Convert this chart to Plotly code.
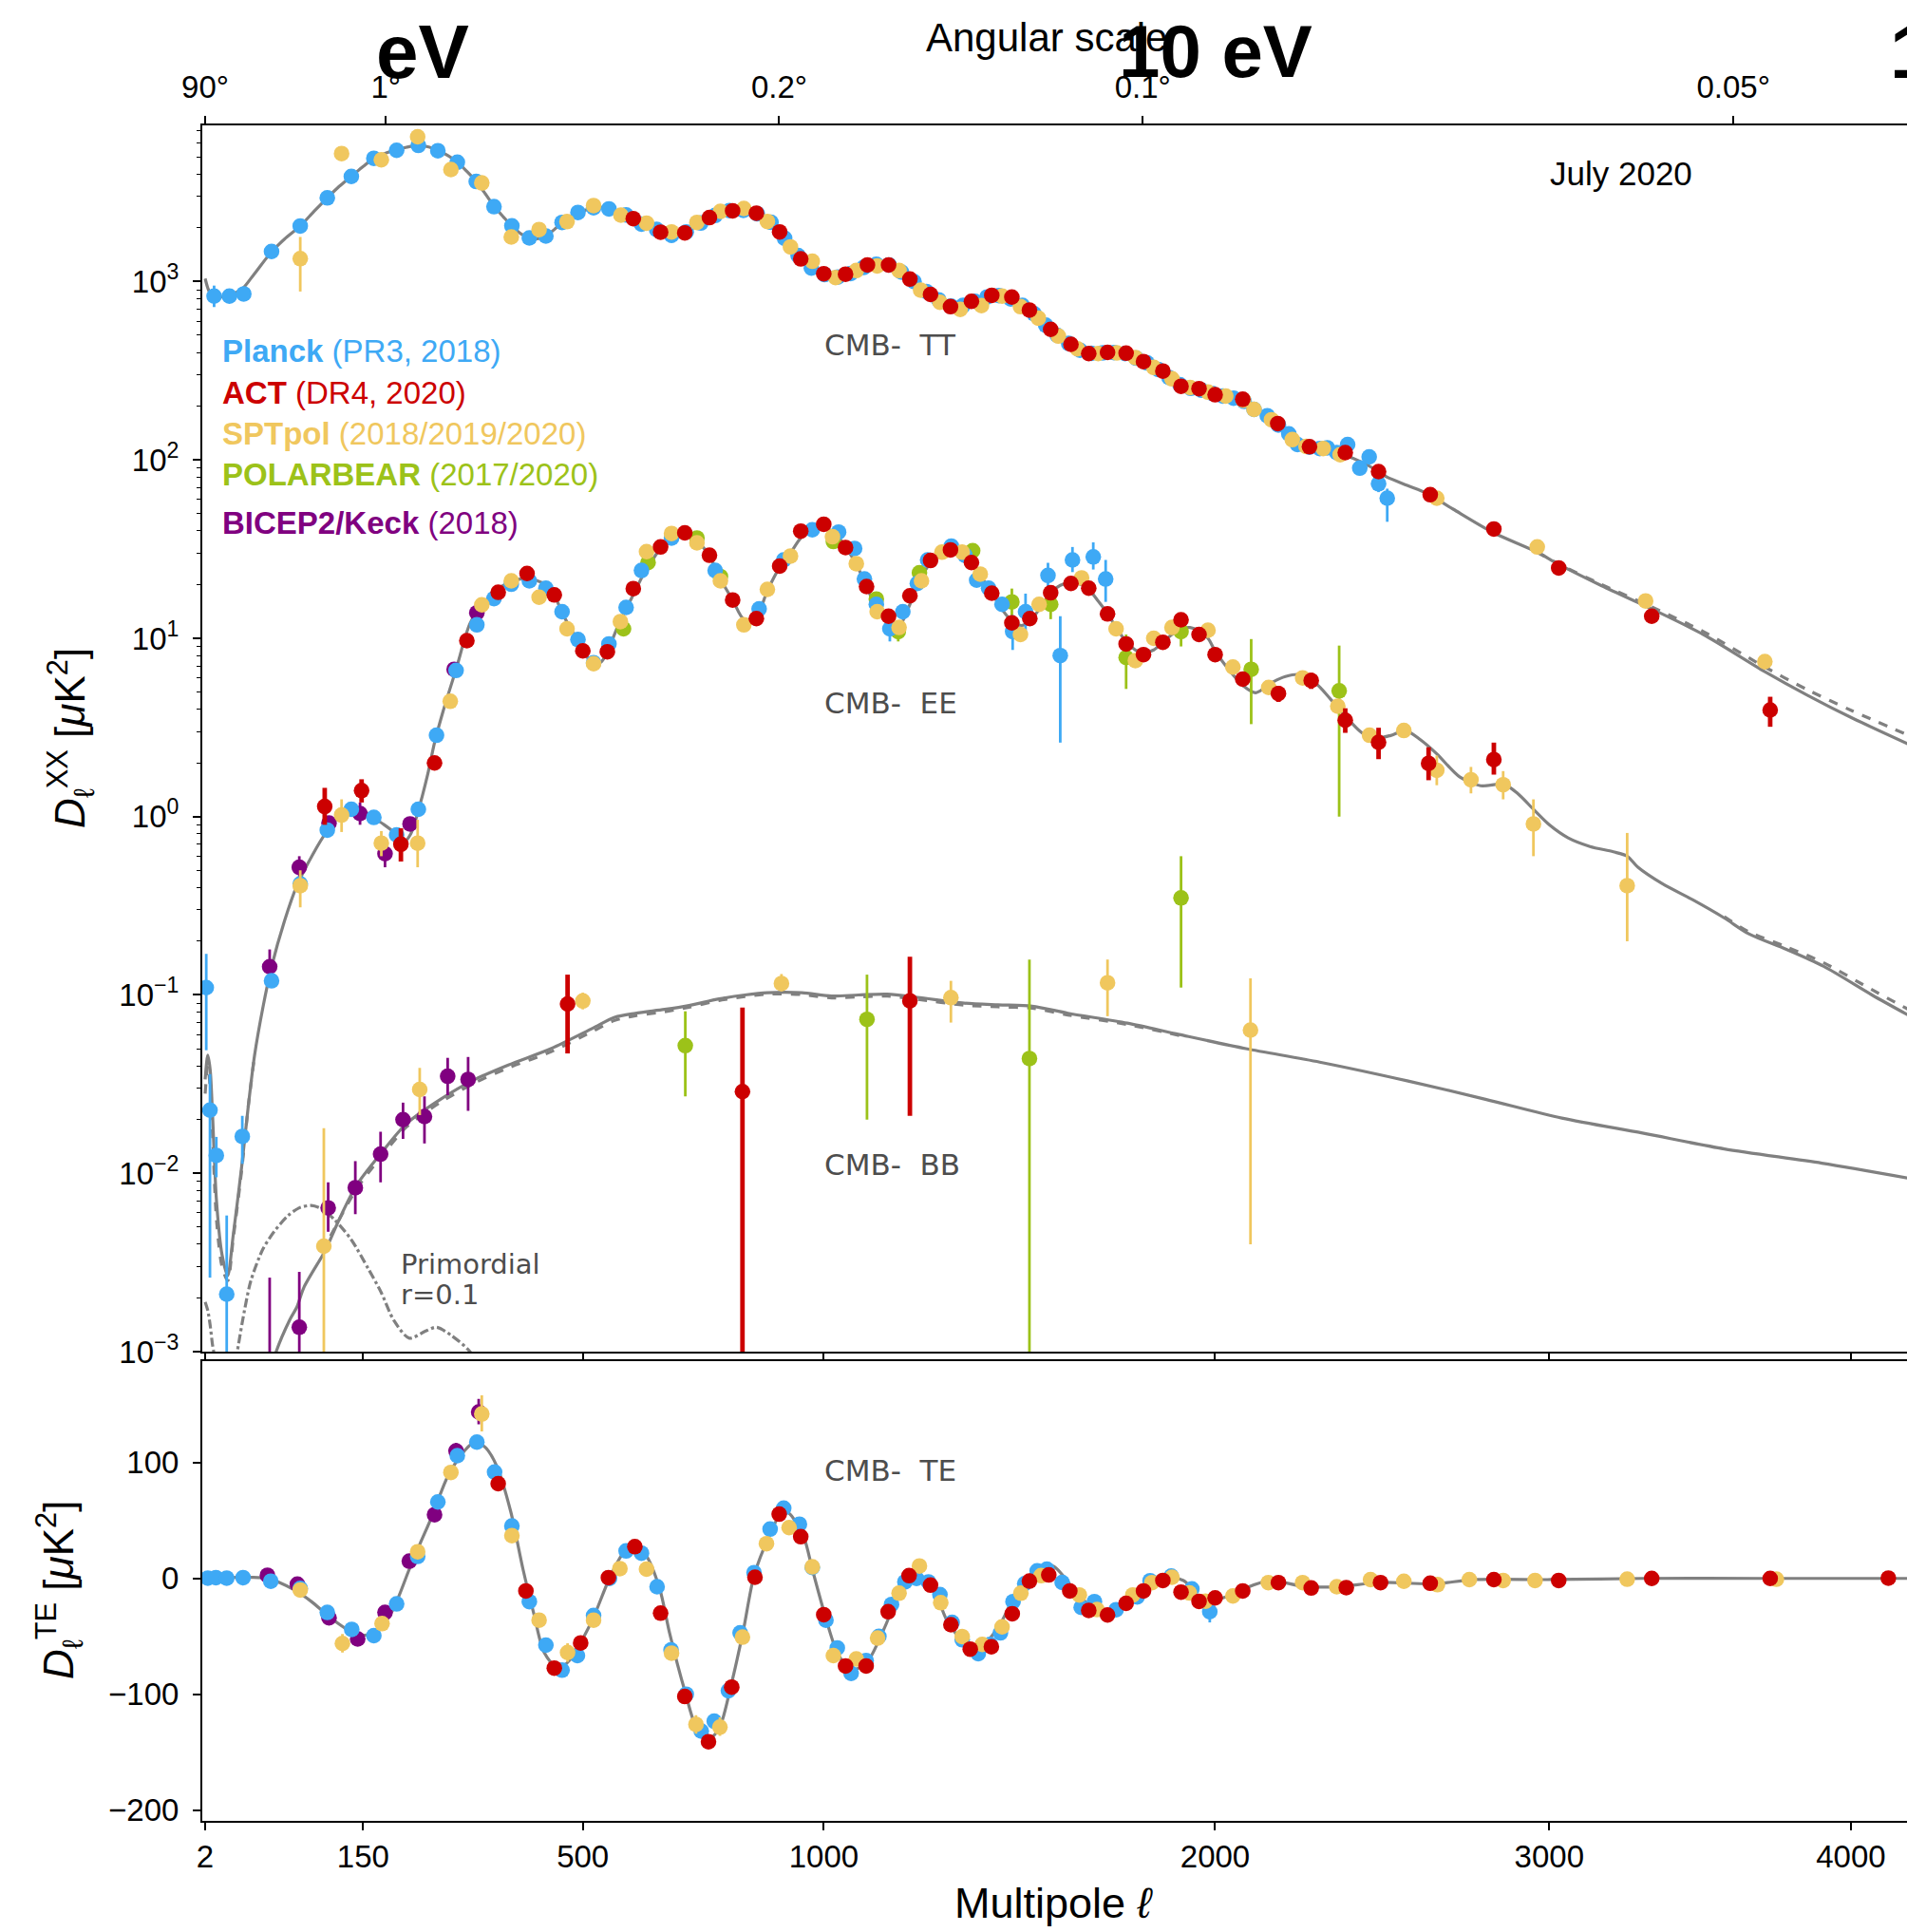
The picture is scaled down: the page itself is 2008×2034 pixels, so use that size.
import plotly.graph_objects as go

# ---------------- data (multipole ell, D_ell in muK^2) ----------------
TT_L = [2,3,4,6,9,13,18,24,33,48,60,76,91,106,120,135,150,164,180,195,210,226,240,255,270,285,300,315,330,344,
        360,374,390,404,418,433,448,462,477,491,505,520,535,549,565,582,597,612,630,650,672,690,710,730,750,773,800,823,850,874,
        900,925,948,974,1000,1027,1050,1075,1101,1125,1151,1175,1202,1228,1252,1277,1301,1327,1353,1378,
        1404,1430,1455,1480,1500,1530,1555,1580,1608,1630,1655,1680,1705,1730,1755,1780,1802,1830,1855,1880,
        1905,1930,1955,1980,2000,2040,2078,2110,2140,2178,2210,2235,2270,2322,2370,2420,2475,2500,2560,2620,
        2700,2826,2960,3030,3160,3330,3500,3706,3850,4000,4200]
TT_D = [1040,920,860,830,820,830,860,920,1110,1475,1730,2050,2480,2950,3420,3890,4420,4910,5250,5480,
        5680,5780,5700,5430,5100,4680,4150,3640,3100,2650,2300,2050,1850,1760,1740,1800,1960,2150,2300,2440,
        2520,2600,2610,2560,2470,2360,2250,2110,1980,1890,1820,1840,1950,2120,2280,2450,2520,2520,2420,2200,
        1920,1580,1340,1180,1100,1060,1080,1150,1220,1250,1240,1150,1040,930,850,775,730,730,765,810,
        830,830,800,740,690,610,540,490,445,415,398,398,400,400,395,375,355,335,312,285,
        262,252,248,240,233,225,215,195,178,158,140,124,118,114,107,98,86,80,72,65,
        53,39,30.5,26,20,14.6,10.5,6.5,4.8,3.6,2.55]
TT_DASH_L = [2960,3030,3160,3330,3500,3706,3850,4000,4200]
TT_DASH_D = [30.5,26.1,20.3,15.0,10.9,6.9,5.15,3.95,2.86]

EE_L = [2,3,4,5,7,10,13.4,17,23,28,33,40,47.5,60,72.5,90,105,120,135,150,
        163,178,191,205,215,225,240,250,263,283,305,325,348,373,398,415,433,448,463,480,
        503,520,535,549,565,582,600,615,632,650,672,699,724,750,773,799,823,850,874,901,
        925,948,975,1000,1027,1050,1075,1099,1124,1151,1175,1202,1225,1252,1280,1301,1327,1353,1375,1404,
        1430,1455,1480,1501,1530,1555,1580,1608,1636,1655,1680,1705,1728,1755,1780,1802,1830,1855,1880,1905,
        1930,1955,1980,2000,2040,2080,2115,2165,2200,2240,2290,2330,2370,2425,2474,2510,2555,2600,2650,2720,
        2785,2857,2900,2952,3000,3060,3130,3205,3250,3285,3365,3467,3570,3652,3779,3905,4073,4200]
EE_D = [0.0336,0.046,0.038,0.022,0.007,0.0035,0.00267,0.0045,0.011,0.024,0.046,0.085,0.142,0.26,0.41,0.62,0.82,1.0,1.12,1.08,
        0.99,0.9,0.82,0.72,0.8,1.05,1.74,2.6,3.9,6.7,12.1,15.5,18.6,20.8,21.7,21.2,19.9,17.5,13.7,11.0,
        8.3,7.1,7.4,8.8,11.5,14.6,18.5,22.6,27,32,36.5,38.5,35,29,21.5,16.4,12.8,13.2,18.5,25,
        30,36.5,41,42,38.5,32.5,26,19.5,14.5,12.0,11.6,15.5,21,26.5,30.5,31,29.5,26,22.5,18,
        14.5,12.5,11.8,12.5,15,18,19.8,20.5,20,18.8,16.2,13.8,11.5,9.6,8.6,8.3,8.6,9.5,10.5,11.3,
        11.5,11.0,10.0,8.5,6.6,5.4,4.95,5.7,6.1,6.26,5.55,4.6,3.77,2.95,2.77,2.85,3.04,2.7,2.25,1.67,
        1.49,1.52,1.35,1.09,0.9,0.76,0.68,0.635,0.6,0.52,0.42,0.34,0.27,0.22,0.18,0.145,0.10,0.077]
EE_DASH_LOW_L = [2,3,4,5,7,10,13.4,17,23,28,33]
EE_DASH_LOW_D = [0.028,0.040,0.030,0.017,0.0055,0.003,0.0025,0.0043,0.0105,0.024,0.046]
EE_DASH_HIGH_L = [3570,3652,3779,3905,4073,4200]
EE_DASH_HIGH_D = [0.275,0.226,0.186,0.152,0.107,0.083]

BB_L = [45,52,65,72.5,80,99.5,105,120,141,174,209,259,313,368,442,518,560,600,658,705,
        770,825,874,950,1018,1080,1148,1220,1335,1420,1507,1600,1758,1900,2087,2300,2560,2800,3040,3300,
        3570,3900,4200]
BB_D = [0.0007,0.001,0.0015,0.00178,0.0023,0.0034,0.0038,0.0055,0.0085,0.013,0.019,0.026,0.0336,0.0405,0.050,0.065,0.075,0.079,0.083,0.087,
        0.095,0.100,0.103,0.103,0.0986,0.100,0.101,0.097,0.090,0.088,0.0865,0.079,0.0695,0.060,0.050,0.042,0.033,0.026,0.0204,0.0168,
        0.0137,0.0114,0.0094]
BB_DASH_L = [100,141,174,209,259,313,368,442,518,560,600,658,705,770,825,874,950,1018,1080,1148,1220,1335,1420,1507,1600,1758,1900]
BB_DASH_D = [0.0036,0.0081,0.0124,0.0182,0.025,0.0322,0.039,0.048,0.0625,0.072,0.0765,0.0805,0.085,0.093,0.098,0.101,0.1005,0.0963,
             0.0975,0.0985,0.0945,0.0877,0.0858,0.0843,0.0772,0.0683,0.0593]
PRIM_LOW_L = [2,3,4,5,5.6,6.5]
PRIM_LOW_D = [0.0019,0.0017,0.0014,0.0011,0.001,0.0007]
PRIM_L = [17,19.8,25,30,40,50,63.6,75,88,100,115,135,157,174,191,213,236,253,276,305,320]
PRIM_D = [0.0007,0.001,0.0017,0.0025,0.00376,0.0047,0.0058,0.0064,0.0066,0.0063,0.00546,0.00424,0.0029,0.00214,0.0015,
          0.00119,0.0013,0.00137,0.00123,0.001,0.0008]

TE_L = [2,10,20,30,44,54,70,88,105,119,132,145,166,189,213,230,245,270,296,313,330,349,372,393,412,430,455,478,500,520,
        550,577,599,620,648,668,699,724,748,770,796,822,845,877,909,925,955,974,1000,1031,1063,1100,1139,1180,1218,1252,1292,1342,1387,1426,
        1472,1520,1561,1615,1660,1705,1775,1820,1865,1912,1970,2030,2080,2155,2255,2355,2480,2635,2770,3005,3300,3700,4200]
TE_D = [0,0.5,1,1,0.2,-3,-10,-20,-31,-39,-45,-48.7,-47.4,-28,8,32,52,88,110,118,113,96.5,57.8,8,-30.8,-64,-77.8,-69.5,-52,-33.5,
        0,22,27.4,20.5,-8.6,-47,-97,-130,-138.7,-130,-91.6,-44.6,2.4,35.6,59,55,35.6,8,-28,-64,-79.2,-72.3,-44.5,-11.4,2.4,-3,-36,-57,-55.7,-39,
        -8.6,8,10.7,-9,-24,-28.7,-19.7,-8,0,-1.8,-19.7,-16,-9,-2,-7,-7,-3.5,-4.7,-1,-1,0,0,0]

# Planck
PLANCK_TT_L = [5.8,14.5,24.5,47.7,76,106,135,164,195,226,255,285,315,344,374,404,433,462,491,520,549,582,612,642,672,702,732,762,792,822,
               852,882,912,942,972,1002,1032,1062,1092,1122,1152,1182,1212,1242,1272,1302,1332,1362,1392,1422,1452,1482,1512,1542,1572,1602,1632,1662,1692,1722,
               1752,1782,1812,1842,1872,1902,1932,1962,1992,2022,2052,2082,2110,2148,2180,2210,2235,2270,2300,2322,2350,2382,2418,2446,2474,2500]
PLANCK_TT_D = [829,829,853,1475,2050,2946,3890,4915,5445,5805,5420,4670,3640,2630,2052,1758,1800,2148,2443,2597,2558,2363,2100,1960,1820,1900,2130,2350,2500,2510,
               2400,2150,1750,1400,1190,1095,1060,1110,1200,1250,1240,1130,1000,880,790,730,735,775,820,835,800,735,660,570,500,450,412,396,398,400,
               395,372,350,322,290,264,252,246,236,228,222,213,192,177,157,140,122,118,116,117,110,122,90,104,73.5,61]
PLANCK_TT_ERR = {5.8: (720, 950), 14.5: (770, 890), 24.5: (800, 905), 2382: (114, 131), 2418: (82, 99),
                 2446: (95, 113), 2474: (66, 81), 2500: (45, 69)}
PLANCK_EE_L = [2.4,3.9,6.9,12.8,23.4,47.7,76,106,135,164,195,226,253,283,316,344,373,404,433,462,491,520,549,582,612,
               672,762,856,910,974,1034,1071,1094,1122,1154,1185,1220,1245,1303,1337,1366,1396,1430,1457,1490,1548,1580,1612,1667,1700]
PLANCK_EE_D = [0.110,0.0226,0.0126,0.0021,0.0161,0.12,0.42,0.84,1.10,0.99,0.79,1.10,2.86,6.6,11.9,16.7,20.1,21.0,19.1,14.1,9.84,7.3,9.3,14.9,24,
               36.5,24,14.6,27.5,40.6,39.4,31.9,21.5,15.5,11.3,14.1,20.3,27.5,32.9,29.2,21.2,19.1,15.5,10.9,14.1,22.5,8.0,27.5,28.6,21.5]
PLANCK_EE_ERR = {2.4: (0.049, 0.17), 3.9: (0.0026, 0.036), 6.9: (0.0095, 0.016), 12.8: (0.0004, 0.0058), 23.4: (0.0113, 0.021),
                 1154: (9.6, 13.3), 1457: (8.6, 13.5), 1490: (10.8, 17.8), 1548: (19.5, 26.5), 1580: (2.6, 13.3),
                 1612: (23.5, 32.5), 1667: (24.3, 34.5), 1700: (16.0, 27.5)}
PLANCK_TE_L = [3,6.7,12.8,24,47,76,106,135.5,164,195,225,255,285,316,345,374,404,433,462,490,520,550,582,612,643,671,702,733,760,790,
               815,845,880,910,945,974,1005,1031,1063,1098,1128,1158,1190,1218,1247,1275,1305,1330,1370,1400,1426,1458,1488,1520,1545,1585,1635,1670,1728,1785,
               1820,1878,1935,1985]
PLANCK_TE_D = [0.3,0.7,0.3,0.7,-2.4,-8.6,-29.4,-44,-49.4,-22,19,66,106,117.7,91.8,45.3,-20,-57.6,-79.2,-66.6,-32,0,23.7,21.8,-7.2,-61.7,-100,-131.8,-123.3,-97,
               -47,5,42.6,60.7,46.8,9.4,-36,-60,-82,-71,-50,-22.5,-3,0,-3,-14,-38,-53,-65,-57,-47,-20,-4.5,6.5,8,-3.5,-25,-20,-27,-16,
               -2,2,-9,-28.7]
PLANCK_TE_ERR = {1985: (-38, -20)}

# ACT
ACT_TT_L = [596,650,699,750,799,850,901,948,1000,1050,1101,1151,1202,1252,1301,1353,1404,1455,1500,1555,1608,1655,1705,1755,1802,
            1855,1905,1955,2000,2078,2178,2270,2375,2474,2630,2826,3030,3330,3724]
ACT_TT_D = [2254,1893,1876,2285,2494,2421,1900,1340,1107,1100,1240,1240,1033,847,724,775,838,819,693,540,445,395,401,397,356,
            315,259,251,232,219,160,118.6,110,86,63.8,41,24.8,13.3,3.96]
ACT_TT_ERR = {3724: (3.19, 4.7), 3330: (12.5, 14.1), 3030: (23.6, 26.0)}
ACT_EE_L = [103,148,201,250,300,351,400,448,500,546,596,650,699,750,799,850,901,948,1000,1050,1099,1151,1202,1252,1301,
            1353,1404,1455,1501,1555,1608,1655,1705,1755,1802,1855,1905,1955,2000,2078,2180,2275,2375,2474,2625,2826]
ACT_EE_D = [1.14,1.40,0.70,2.0,9.7,18.1,23.1,17.5,8.5,8.4,19,32.5,39,29.2,16.4,12.9,25.4,39.9,43.6,32.3,19.5,13.3,17.3,27.3,31.3,
            26.6,17.9,12.2,12.9,18,20.3,19.1,13.7,9.3,8.1,9.5,12.7,10.5,8.1,5.9,4.9,5.8,3.47,2.61,1.99,2.09]
ACT_EE_ERR = {103: (0.9, 1.45), 148: (1.2, 1.62), 201: (0.56, 0.86), 2180: (4.4, 5.4), 2275: (5.2, 6.4),
              2375: (2.95, 4.05), 2474: (2.1, 3.15), 2625: (1.6, 2.45), 2826: (1.72, 2.6)}
ACT_BB_L = [472,820,1202]
ACT_BB_D = [0.089,0.0287,0.0927]
ACT_BB_ERR = {472: (0.047, 0.13), 820: (0.0003, 0.085), 1202: (0.021, 0.164)}
ACT_TE_L = [351,398,448,496,548,599,650,699,748,797,847,900,948,1000,1050,1098,1150,1200,1252,1302,1350,1403,1456,1500,1550,
            1605,1655,1705,1755,1802,1855,1905,1955,2000,2078,2180,2275,2378,2480,2630,2826,3030,3330,3724,4130]
ACT_TE_D = [81.8,-10.8,-77.4,-55.7,0.7,27.4,-30,-102,-141,-93.8,1,55.5,36,-31.3,-75.6,-75.6,-28.8,2.4,-5.8,-40,-61,-59,-30.5,-2.3,3,
            -10.8,-27.6,-31.6,-21.5,-10.8,-1.8,-11.8,-19.8,-16.8,-10.8,-3.6,-8.3,-7.9,-3.6,-4.2,-1,-1.8,0,0,0.3]

# SPTpol
SPT_TT_L = [76,123,174,225,275,324,373,421,471,520,572,622,672,724,773,823,874,925,974,1027,1075,1124,1176,1228,1275,
            1325,1378,1430,1477,1523,1575,1625,1680,1730,1780,1830,1880,1930,1980,2030,2080,2110,2160,2220,2260,2310,2360,2650,2962,3310,3706]
SPT_TT_D = [1344,5225,4820,6490,4250,3575,1780,1958,2170,2670,2360,2128,1900,2148,2478,2570,2173,1565,1300,1054,1153,1225,1153,896,766,
            699,734,830,724,624,495,420,395,398,375,330,285,255,240,228,216,192,168,130,119,116,107,61,32.5,16.2,7.4]
SPT_TT_ERR = {76: (880, 1780), 123: (4950, 5500), 174: (4500, 5150), 225: (6150, 6850), 275: (4000, 4500),
              324: (3400, 3750), 3310: (15.4, 17.0), 3706: (6.7, 8.1)}
SPT_EE_L = [76,123,174,225,274,324,373,421,471,520,571,622,672,724,773,823,874,925,1020,1075,1124,1176,1230,1280,1330,
            1375,1477,1525,1636,1728,1780,1830,1880,1980,2050,2152,2250,2353,2447,2550,2650,2755,2855,2950,3250]
SPT_EE_D = [0.41,1.02,0.71,0.71,4.43,15.4,21,17,11.3,7.2,12.4,30.6,38.7,34.3,21,11.9,18.8,28.9,37.1,26.2,14.1,11.5,21,30.4,30.4,
            22.9,10.5,15.5,21.8,11.3,7.5,10,11.5,11.1,6.9,5.3,6.0,4.16,2.86,3.04,1.82,1.61,1.51,0.91,0.41]
SPT_EE_ERR = {76: (0.31, 0.5), 123: (0.82, 1.25), 174: (0.6, 0.83), 225: (0.52, 0.96), 2650: (1.5, 2.2),
              2755: (1.35, 1.9), 2855: (1.25, 1.8), 2950: (0.6, 1.25), 3250: (0.2, 0.81)}
SPT_BB_L = [102,228,500,905,1302,1705,2100]
SPT_BB_D = [0.0039,0.0295,0.0925,0.116,0.0966,0.117,0.0635]
SPT_BB_ERR = {102: (0.0003, 0.0179), 228: (0.0212, 0.039), 500: (0.083, 0.103), 905: (0.105, 0.131),
              1302: (0.07, 0.12), 1705: (0.076, 0.158), 2100: (0.004, 0.124)}
SPT_TE_L = [76,124,175,225,275,324,374,421,472,520,570,622,672,722,772,820,872,922,974,1022,1075,1125,1176,1225,1277,
            1330,1380,1430,1478,1530,1630,1677,1773,1825,1880,1928,1973,2050,2151,2250,2350,2450,2550,2652,2750,2855,2955,3250,3745]
SPT_TE_D = [-10,-56.2,-39,23,91.5,142,37,-36,-64,-36,8.5,8,-64.5,-126,-128.4,-50.7,30,43.9,10,-66.6,-69.5,-51.5,-12.8,10.7,-21,
            -50.2,-57,-41.8,-12.8,2.4,-14.3,-26.9,-14.3,-3.6,1,-12.6,-19.7,-15.2,-3.6,-3.6,-7.2,-1,-2.5,-5.4,-1,-1.8,-1.8,-0.7,-0.7]
SPT_TE_ERR = {124: (-64, -48), 324: (127, 158), 472: (-72, -56), 722: (-134, -118), 772: (-136, -120),
              1022: (-73, -60), 421: (-42, -30), 1176: (-19, -7)}

# POLARBEAR
PB_EE_L = [577,625,724,773,1022,1122,1174,1225,1356,1455,1555,1755,1905,2102,2357]
PB_EE_D = [11.3,26.6,36.5,22.2,34.9,16.6,10.9,23.3,31,16,15.5,7.8,10.9,6.7,5.07]
PB_EE_ERR = {1174: (9.6, 12.3), 1455: (12.5, 19), 1555: (12.8, 18.5), 1755: (5.2, 10.5), 1905: (9.0, 13.0),
             2102: (3.3, 9.9), 2357: (1.0, 9.1)}
PB_BB_L = [700,1100,1500,1905]
PB_BB_D = [0.052,0.073,0.044,0.35]
PB_BB_ERR = {700: (0.027, 0.081), 1100: (0.02, 0.13), 1500: (0.0003, 0.158), 1905: (0.11, 0.6)}

# BICEP2/Keck
BK_EE_L = [46,75,108,146,179,214,280,316]
BK_EE_D = [0.144,0.52,0.92,1.04,0.62,0.91,6.7,13.9]
BK_EE_ERR = {46: (0.115, 0.18), 75: (0.45, 0.6), 146: (0.9, 1.2), 179: (0.52, 0.73)}
BK_BB_L = [46,75,107,140,173,204,235,270,302]
BK_BB_D = [0.0007,0.00137,0.0064,0.0083,0.0128,0.020,0.0208,0.035,0.0336]
BK_BB_ERR = {46: (0.0003, 0.0026), 75: (0.0003, 0.0028), 107: (0.0047, 0.0089), 140: (0.0059, 0.0117),
             173: (0.0089, 0.0171), 204: (0.0156, 0.0249), 235: (0.0147, 0.027), 270: (0.0274, 0.0444), 302: (0.0224, 0.0449)}
BK_TE_L = [44,73,108,143,179,213,250,283,319]
BK_TE_D = [2.7,-5,-34,-52.3,-29.4,14.9,55,110,143.7]
BK_TE_ERR = {283: (103, 117), 319: (133, 155)}

X_TICKS = [2, 150, 500, 1000, 2000, 3000, 4000]
ANG_TICKS = [90, 1, 0.2, 0.1, 0.05]
ANG_TEXT = ["90°", "1°", "0.2°", "0.1°", "0.05°"]

# ---------------- styling ----------------
C_PLANCK = "#3ea9f5"
C_ACT = "#cc0000"
C_SPT = "#f0c75e"
C_PB = "#9cc219"
C_BK = "#800080"
C_TH = "#808080"
FONT = "Liberation Sans"
W, H = 2008, 2034
POW = 0.7


def xf(ells):
    return [l ** POW for l in ells]


def errs(L, D, bounds):
    em, ep = [], []
    for l, d in zip(L, D):
        if l in bounds:
            lo, hi = bounds[l]
            em.append(d - lo)
            ep.append(hi - d)
        else:
            em.append(0)
            ep.append(0)
    return em, ep


for a, b in [(TT_L, TT_D), (EE_L, EE_D), (BB_L, BB_D), (TE_L, TE_D), (PLANCK_TT_L, PLANCK_TT_D),
             (PLANCK_EE_L, PLANCK_EE_D), (PLANCK_TE_L, PLANCK_TE_D), (ACT_TT_L, ACT_TT_D), (ACT_EE_L, ACT_EE_D),
             (ACT_TE_L, ACT_TE_D), (SPT_TT_L, SPT_TT_D), (SPT_EE_L, SPT_EE_D), (SPT_TE_L, SPT_TE_D),
             (BB_DASH_L, BB_DASH_D), (PRIM_L, PRIM_D)]:
    assert len(a) == len(b), (len(a), len(b))

fig = go.Figure()


def curve(L, D, dash="solid", ax="x", ay="y"):
    fig.add_trace(go.Scatter(x=xf(L), y=D, mode="lines", xaxis=ax, yaxis=ay, hoverinfo="skip",
                             line=dict(color=C_TH, width=3.2, dash=dash, shape="spline", smoothing=0.8),
                             showlegend=False))


def pts(L, D, bounds, color, ew, ax="x", ay="y"):
    em, ep = errs(L, D, bounds)
    fig.add_trace(go.Scatter(x=xf(L), y=D, mode="markers", xaxis=ax, yaxis=ay,
                             marker=dict(color=color, size=16.5, line=dict(width=0)),
                             error_y=dict(type="data", symmetric=False, array=ep, arrayminus=em,
                                          color=color, thickness=ew, width=0),
                             showlegend=False))


# theory
curve(TT_L, TT_D)
curve(TT_DASH_L, TT_DASH_D, "dash")
curve(EE_L, EE_D)
curve(EE_DASH_LOW_L, EE_DASH_LOW_D, "dash")
curve(EE_DASH_HIGH_L, EE_DASH_HIGH_D, "dash")
curve(BB_L, BB_D)
curve(BB_DASH_L, BB_DASH_D, "dash")
curve(PRIM_LOW_L, PRIM_LOW_D, "dashdot")
curve(PRIM_L, PRIM_D, "dashdot")
curve(TE_L, TE_D, ax="x2", ay="y2")

# data, top panel
pts(BK_EE_L, BK_EE_D, BK_EE_ERR, C_BK, 2.8)
pts(BK_BB_L, BK_BB_D, BK_BB_ERR, C_BK, 2.8)
pts(PB_EE_L, PB_EE_D, PB_EE_ERR, C_PB, 2.8)
pts(PB_BB_L, PB_BB_D, PB_BB_ERR, C_PB, 2.8)
pts(PLANCK_TT_L, PLANCK_TT_D, PLANCK_TT_ERR, C_PLANCK, 2.8)
pts(PLANCK_EE_L, PLANCK_EE_D, PLANCK_EE_ERR, C_PLANCK, 2.8)
pts(SPT_TT_L, SPT_TT_D, SPT_TT_ERR, C_SPT, 2.8)
pts(SPT_EE_L, SPT_EE_D, SPT_EE_ERR, C_SPT, 2.8)
pts(SPT_BB_L, SPT_BB_D, SPT_BB_ERR, C_SPT, 2.8)
pts(ACT_TT_L, ACT_TT_D, ACT_TT_ERR, C_ACT, 4.8)
pts(ACT_EE_L, ACT_EE_D, ACT_EE_ERR, C_ACT, 4.8)
pts(ACT_BB_L, ACT_BB_D, ACT_BB_ERR, C_ACT, 4.8)
# data, bottom panel
pts(BK_TE_L, BK_TE_D, BK_TE_ERR, C_BK, 2.8, "x2", "y2")
pts(PLANCK_TE_L, PLANCK_TE_D, PLANCK_TE_ERR, C_PLANCK, 2.8, "x2", "y2")
pts(SPT_TE_L, SPT_TE_D, SPT_TE_ERR, C_SPT, 2.8, "x2", "y2")
pts(ACT_TE_L, ACT_TE_D, {}, C_ACT, 4.8, "x2", "y2")
# dummy trace for the top (angular scale) axis
fig.add_trace(go.Scatter(x=[None], y=[None], xaxis="x3", yaxis="y", showlegend=False))

XR = [1.05, 343.5]
XDOM = [213 / W, 1.0]
top_dom = [1 - 1423 / H, 1 - 132 / H]
bot_dom = [1 - 1916.6 / H, 1 - 1432.5 / H]

tickfont = dict(family=FONT, size=33, color="black")
axis_common = dict(showline=True, linecolor="black", linewidth=2, ticks="outside", tickcolor="black",
                   tickwidth=1.5, ticklen=8, showgrid=False, zeroline=False, automargin=False)

minor_vals = [m * 10 ** k for k in range(-3, 4) for m in range(2, 10) if m * 10 ** k < 7500]
ytick_vals = [1e-3, 1e-2, 1e-1, 1, 10, 100, 1000]
ytick_text = ["10<sup>−3</sup>", "10<sup>−2</sup>", "10<sup>−1</sup>", "10<sup>0</sup>",
              "10<sup>1</sup>", "10<sup>2</sup>", "10<sup>3</sup>"]

fig.update_layout(
    width=W, height=H, margin=dict(l=0, r=0, t=0, b=0, autoexpand=False),
    paper_bgcolor="white", plot_bgcolor="white", showlegend=False,
    xaxis=dict(domain=XDOM, range=XR, anchor="y", tickvals=xf(X_TICKS), showticklabels=False, **axis_common),
    xaxis2=dict(domain=XDOM, range=XR, anchor="y2", tickvals=xf(X_TICKS), ticktext=[str(v) for v in X_TICKS],
                tickfont=tickfont, mirror=True, ticklabelstandoff=0, **axis_common),
    xaxis3=dict(overlaying="x", side="top", anchor="y", range=XR,
                tickvals=xf([180.0 / a for a in ANG_TICKS]), ticktext=ANG_TEXT, tickfont=tickfont,
                ticklabelstandoff=6, **axis_common),
    yaxis=dict(domain=top_dom, type="log", range=[-3, 3.876], anchor="x", tickvals=ytick_vals, ticktext=ytick_text,
               tickfont=tickfont, ticklabelstandoff=8,
               minor=dict(tickvals=minor_vals, ticks="outside", ticklen=4, tickwidth=1.2, tickcolor="black"),
               **axis_common),
    yaxis2=dict(domain=bot_dom, range=[-209, 188], anchor="x2", tickvals=[-200, -100, 0, 100],
                ticktext=["−200", "−100", "0", "100"], tickfont=tickfont, ticklabelstandoff=8, **axis_common),
)


def ann(text, px, py, size, color="black", family=FONT, xanchor="left", yanchor="middle", angle=0):
    fig.add_annotation(text=text, x=px / W, y=1 - py / H, xref="paper", yref="paper", showarrow=False,
                       xanchor=xanchor, yanchor=yanchor, textangle=angle,
                       font=dict(family=family, size=size, color=color))


ann("Angular scale", 1102, 40, 42, xanchor="center")
ann("<b>eV</b>", 394, 54, 80)
ann("<b>10 eV</b>", 1176, 54, 78)
ann("<b>1</b>", 1988, 54, 80)
ann("July 2020", 1630, 183, 35)
ann("Multipole <i>ℓ</i>", 1110, 2003, 45, xanchor="center")
ann("<i>D</i><sub>ℓ</sub><sup>XX</sup> [<i>μ</i>K<sup>2</sup>]", 74, 777, 44, xanchor="center", angle=-90)
ann("<i>D</i><sub>ℓ</sub><sup>TE</sup> [<i>μ</i>K<sup>2</sup>]", 62, 1674, 44, xanchor="center", angle=-90)

LEG = [("Planck", " (PR3, 2018)", C_PLANCK, 370), ("ACT", " (DR4, 2020)", C_ACT, 413),
       ("SPTpol", " (2018/2019/2020)", C_SPT, 456), ("POLARBEAR", " (2017/2020)", C_PB, 499),
       ("BICEP2/Keck", " (2018)", C_BK, 550)]
for name, rest, col, py in LEG:
    ann("<b>%s</b>%s" % (name, rest), 232, py, 33, color=col)

LABEL_COL = "#4d4d4d"
for txt, py in [("CMB-  TT", 363), ("CMB-  EE", 740), ("CMB-  BB", 1226), ("CMB-  TE", 1548)]:
    ann(txt, 866, py, 31, color=LABEL_COL, family="DejaVu Sans")
ann("Primordial", 420, 1331, 29, color=LABEL_COL, family="DejaVu Sans")
ann("r=0.1", 420, 1363, 29, color=LABEL_COL, family="DejaVu Sans")

fig.write_html("out.html")
